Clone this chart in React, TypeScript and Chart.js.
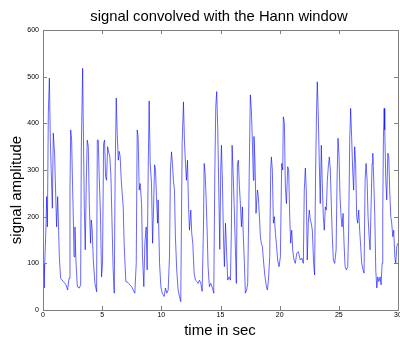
import React, { useEffect, useRef } from "react";
import { Chart, registerables } from "chart.js";

Chart.register(...registerables);

const titleText = "signal convolved with the Hann window";
const xLabel = "time in sec";
const yLabel = "signal amplitude";
const xTicks = [0, 5, 10, 15, 20, 25, 30];
const yTicks = [0, 100, 200, 300, 400, 500, 600];

const times = [
  0.0, 0.08, 0.25, 0.31, 0.37, 0.45, 0.54, 0.62, 0.7, 0.79, 0.87, 0.98, 1.04, 1.15, 1.24, 1.32, 1.38, 1.49, 1.72, 1.94,
  2.08, 2.2, 2.28, 2.34, 2.42, 2.5, 2.56, 2.62, 2.7, 2.78, 2.9, 3.07, 3.18, 3.24, 3.35, 3.4, 3.49, 3.57, 3.66, 3.74,
  3.83, 3.91, 4.02, 4.08, 4.16, 4.25, 4.39, 4.53, 4.59, 4.67, 4.75, 4.86, 4.95, 5.03, 5.12, 5.2, 5.29, 5.37, 5.46, 5.57,
  5.65, 5.74, 5.82, 5.93, 6.02, 6.1, 6.19, 6.27, 6.36, 6.44, 6.52, 6.61, 6.69, 6.78, 6.86, 7.0, 7.17, 7.34, 7.48, 7.62,
  7.76, 7.88, 7.96, 8.04, 8.13, 8.21, 8.33, 8.41, 8.52, 8.61, 8.72, 8.8, 8.89, 8.97, 9.06, 9.17, 9.26, 9.34, 9.43, 9.51,
  9.59, 9.68, 9.73, 9.85, 9.96, 10.07, 10.24, 10.35, 10.46, 10.58, 10.69, 10.77, 10.86, 10.94, 11.02, 11.11, 11.19, 11.3, 11.42, 11.53,
  11.64, 11.76, 11.87, 11.95, 12.04, 12.12, 12.21, 12.29, 12.38, 12.49, 12.57, 12.66, 12.77, 12.88, 13.0, 13.11, 13.22, 13.33, 13.45, 13.56,
  13.62, 13.7, 13.78, 13.87, 13.95, 14.06, 14.18, 14.32, 14.43, 14.52, 14.6, 14.68, 14.77, 14.85, 14.94, 15.02, 15.08, 15.16, 15.25, 15.33,
  15.42, 15.5, 15.61, 15.73, 15.84, 15.92, 15.98, 16.06, 16.15, 16.23, 16.34, 16.43, 16.51, 16.6, 16.68, 16.77, 16.85, 16.93, 17.02, 17.1,
  17.21, 17.3, 17.38, 17.47, 17.52, 17.61, 17.69, 17.78, 17.83, 17.92, 18.0, 18.12, 18.2, 18.29, 18.37, 18.45, 18.54, 18.65, 18.76, 18.88,
  18.96, 19.05, 19.16, 19.24, 19.3, 19.38, 19.47, 19.55, 19.64, 19.72, 19.83, 19.95, 20.06, 20.17, 20.26, 20.31, 20.4, 20.48, 20.57, 20.68,
  20.76, 20.85, 20.93, 21.02, 21.1, 21.21, 21.32, 21.44, 21.58, 21.74, 21.88, 22.0, 22.08, 22.17, 22.25, 22.33, 22.42, 22.5, 22.59, 22.67,
  22.76, 22.87, 22.95, 23.04, 23.12, 23.18, 23.26, 23.35, 23.43, 23.52, 23.6, 23.69, 23.77, 23.86, 23.94, 24.03, 24.11, 24.2, 24.28, 24.37,
  24.45, 24.54, 24.65, 24.77, 24.85, 24.93, 25.02, 25.1, 25.19, 25.27, 25.36, 25.44, 25.53, 25.64, 25.75, 25.83, 25.92, 26.0, 26.08, 26.17,
  26.25, 26.34, 26.42, 26.51, 26.59, 26.68, 26.76, 26.85, 26.93, 27.05, 27.13, 27.22, 27.3, 27.39, 27.47, 27.56, 27.64, 27.73, 27.81, 27.87,
  27.95, 28.04, 28.12, 28.21, 28.29, 28.38, 28.49, 28.57, 28.66, 28.71, 28.77, 28.83, 28.88, 28.97, 29.05, 29.14, 29.22, 29.3, 29.39, 29.47,
  29.56, 29.64, 29.73, 29.81, 29.9, 29.98,
];

const amplitude = [
  100, 47, 178, 243, 178, 421, 497, 364, 293, 218, 379, 336, 278, 178, 243, 171, 114, 68, 61, 54,
  43, 68, 257, 386, 364, 264, 200, 114, 178, 107, 50, 47, 54, 350, 518, 407, 221, 129, 278, 364,
  350, 228, 143, 193, 171, 107, 57, 39, 364, 364, 286, 200, 71, 100, 357, 364, 286, 278, 350, 336,
  328, 286, 200, 86, 36, 300, 454, 380, 321, 340, 329, 280, 250, 221, 139, 61, 59, 54, 50, 43,
  36, 100, 386, 372, 257, 271, 228, 114, 50, 143, 178, 86, 300, 448, 314, 271, 143, 214, 311, 300,
  243, 186, 236, 100, 50, 36, 29, 47, 36, 43, 114, 300, 339, 314, 278, 257, 157, 86, 43, 29,
  18, 357, 446, 364, 314, 278, 321, 228, 171, 214, 164, 143, 79, 64, 61, 57, 64, 58, 40, 178,
  314, 293, 243, 171, 93, 50, 57, 47, 36, 293, 436, 468, 386, 264, 130, 300, 353, 278, 157, 93,
  186, 136, 64, 71, 64, 171, 353, 300, 228, 157, 57, 314, 321, 264, 228, 178, 221, 157, 100, 36,
  43, 57, 200, 372, 461, 429, 364, 278, 372, 314, 207, 257, 243, 200, 157, 143, 136, 100, 71, 50,
  43, 64, 114, 300, 328, 300, 186, 200, 164, 143, 107, 93, 114, 314, 300, 414, 400, 264, 228, 307,
  300, 200, 143, 171, 129, 107, 100, 121, 125, 107, 111, 100, 257, 304, 257, 107, 186, 214, 193, 186,
  171, 100, 75, 300, 429, 489, 421, 314, 228, 353, 271, 200, 171, 221, 214, 278, 307, 328, 300, 221,
  157, 107, 100, 129, 278, 368, 328, 243, 200, 178, 207, 143, 93, 86, 93, 171, 364, 432, 372, 300,
  257, 350, 314, 200, 186, 214, 171, 136, 100, 86, 79, 278, 314, 278, 200, 157, 129, 228, 314, 336,
  278, 200, 86, 47, 71, 61, 71, 54, 100, 207, 372, 432, 386, 278, 236, 336, 328, 257, 200, 186,
  157, 171, 114, 100, 136, 143,
];

const FONT = "Arial, 'Liberation Sans', Helvetica, sans-serif";

export default function App() {
  const ref = useRef<HTMLCanvasElement | null>(null);

  useEffect(() => {
    document.body.style.margin = "0";
    const canvas = ref.current;
    if (!canvas) return;

    const frame = {
      id: "frame",
      afterDraw(chart: any) {
        const { ctx, chartArea: a, scales } = chart;
        const xs = scales.x;
        const ys = scales.y;
        ctx.save();
        ctx.strokeStyle = "#7f7f7f";
        ctx.lineWidth = 1;
        ctx.strokeRect(Math.round(a.left) + 0.5, Math.round(a.top) + 0.5, Math.round(a.right - a.left), Math.round(a.bottom - a.top));
        ctx.beginPath();
        const tl = 4;
        xTicks.forEach((v) => {
          const px = Math.round(xs.getPixelForValue(v)) + 0.5;
          ctx.moveTo(px, a.bottom);
          ctx.lineTo(px, a.bottom - tl);
          ctx.moveTo(px, a.top);
          ctx.lineTo(px, a.top + tl);
        });
        yTicks.forEach((v) => {
          const py = Math.round(ys.getPixelForValue(v)) + 0.5;
          ctx.moveTo(a.left, py);
          ctx.lineTo(a.left + tl, py);
          ctx.moveTo(a.right, py);
          ctx.lineTo(a.right - tl, py);
        });
        ctx.stroke();

        ctx.fillStyle = "#000";
        ctx.textAlign = "center";
        ctx.textBaseline = "middle";
        ctx.font = `14.8px ${FONT}`;
        ctx.fillText(titleText, 219, 17);
        ctx.font = `15px ${FONT}`;
        ctx.fillText(xLabel, 220, 331);
        ctx.save();
        ctx.translate(17, 190);
        ctx.rotate(-Math.PI / 2);
        ctx.fillText(yLabel, 0, 0);
        ctx.restore();
        ctx.restore();
      },
    };

    const chart = new Chart(canvas, {
      type: "line",
      data: {
        datasets: [
          {
            data: times.map((t, i) => ({ x: t, y: amplitude[i] })),
            borderColor: "rgb(0,0,255)",
            borderWidth: 0.6,
            pointRadius: 0,
            tension: 0,
            fill: false,
          },
        ],
      },
      options: {
        responsive: false,
        animation: false,
        events: [],
        layout: { padding: { top: 30, right: 2, left: 0, bottom: 0 } },
        plugins: { legend: { display: false }, tooltip: { enabled: false }, title: { display: false } },
        scales: {
          x: {
            type: "linear",
            min: 0,
            max: 30,
            grid: { display: false, drawTicks: false },
            border: { display: false },
            ticks: {
              stepSize: 5,
              padding: 1,
              maxRotation: 0,
              autoSkip: false,
              color: "#000",
              font: { family: FONT, size: 7 },
            },
            afterFit(scale: any) {
              scale.height = 28;
              scale.paddingLeft = 0;
              scale.paddingRight = 0;
            },
          },
          y: {
            min: 0,
            max: 600,
            grid: { display: false, drawTicks: false },
            border: { display: false },
            ticks: {
              stepSize: 100,
              padding: 4,
              color: "#000",
              font: { family: FONT, size: 7 },
            },
            afterFit(scale: any) {
              scale.width = 43;
              scale.paddingTop = 0;
              scale.paddingBottom = 0;
            },
          },
        },
      },
      plugins: [frame],
    } as any);

    return () => chart.destroy();
  }, []);

  return (
    <div style={{ position: "absolute", left: 0, top: 0, width: 400, height: 338 }}>
      <canvas ref={ref} width={400} height={338} style={{ display: "block", width: 400, height: 338 }} />
    </div>
  );
}
